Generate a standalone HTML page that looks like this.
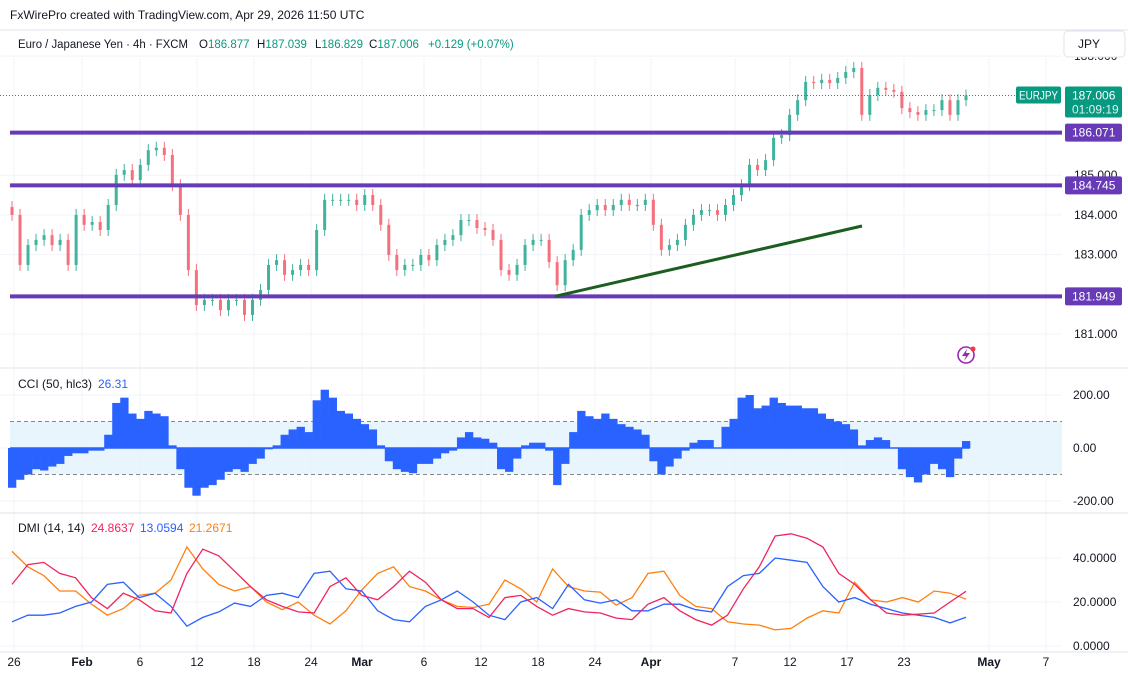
<!DOCTYPE html>
<html><head><meta charset="utf-8"><style>
body{margin:0;background:#fff;}
svg text{font-family:"Liberation Sans",sans-serif;}
</style></head><body>
<svg id="c" width="1128" height="680" xmlns="http://www.w3.org/2000/svg">
<rect width="1128" height="680" fill="#fff"/>
<text x="10" y="19" font-size="12" fill="#131722">FxWirePro created with TradingView.com, Apr 29, 2026 11:50 UTC</text>
<line x1="0" y1="30" x2="1128" y2="30" stroke="#e0e3eb"/>
<g font-size="11.5">
<text x="18" y="48" fill="#131722" textLength="170" lengthAdjust="spacingAndGlyphs">Euro / Japanese Yen · 4h · FXCM</text>
<text x="199" y="48" fill="#131722">O<tspan fill="#089981">186.877</tspan></text>
<text x="257" y="48" fill="#131722">H<tspan fill="#089981">187.039</tspan></text>
<text x="315" y="48" fill="#131722">L<tspan fill="#089981">186.829</tspan></text>
<text x="369" y="48" fill="#131722">C<tspan fill="#089981">187.006</tspan></text>
<text x="428" y="48" fill="#089981">+0.129 (+0.07%)</text>
</g>
<g id="grid"></g>
<g id="main"></g>
<g id="cci"></g>
<g id="dmi"></g>
<g id="axes"></g>
</svg>
<script>
// ---------- data ----------
const closes=[184.00,182.74,183.24,183.37,183.49,183.24,183.37,182.74,184.00,183.75,
183.82,183.62,184.25,185.01,185.13,184.88,185.26,185.63,185.69,185.51,
184.75,184.00,182.61,181.73,181.86,181.86,181.60,181.86,181.86,181.48,
181.86,182.11,182.74,182.86,182.49,182.61,182.74,182.61,183.62,184.38,
184.38,184.38,184.38,184.25,184.50,184.25,183.75,182.99,182.61,182.74,
182.74,182.99,182.86,183.24,183.37,183.49,183.87,183.87,183.67,183.62,
183.37,182.61,182.49,182.74,183.24,183.37,183.37,182.81,182.23,182.86,
183.12,184.00,184.12,184.25,184.12,184.25,184.38,184.25,184.25,184.38,
183.75,183.12,183.24,183.37,183.75,184.00,184.12,184.12,184.00,184.25,
184.50,184.75,185.26,185.13,185.38,185.94,186.01,186.52,186.89,187.35,
187.32,187.40,187.32,187.45,187.60,187.70,186.52,187.02,187.20,187.15,
187.10,186.69,186.59,186.52,186.64,186.64,186.89,186.52,186.89,187.006];
const cciValues=[-150,-120,-100,-80,-85,-70,-60,-30,-20,-20,-10,-10,50,170,190,130,110,140,130,120,
10,-80,-150,-180,-150,-140,-120,-90,-80,-90,-60,-40,-5,10,50,70,80,60,180,220,
190,140,130,110,90,70,10,-50,-80,-90,-95,-60,-60,-40,-20,-10,40,60,40,35,
20,-80,-90,-40,10,20,20,-10,-140,-60,60,140,120,110,130,110,90,80,70,50,
-50,-100,-70,-40,-10,20,30,30,0,80,110,190,200,150,160,190,170,160,160,150,
150,130,110,100,90,70,10,30,40,30,0,-80,-110,-130,-100,-60,-80,-110,-40,26.31];
const adxValues=[28,37,38,33,31,22,17,24,21,16,15,33,44,41,34,27,21,18,15.5,15,27,31,23,21,27,34,29,21,17,17,13,22,23,18,14,17,15.5,15,12.7,12,19,22,16,12,9.5,14,26,36,50,51,49,45,33,28,21,15,14,14.5,15,20,24.8637];
const plusDiValues=[11,14,14,15,18,20,28,29,22,24,18,9,13,15.5,19.5,18,23,24,22,33,34,26,25,16,12,11,18,21,25,20,14,12,20,22,17,28,21,19.5,21,16,16,19,19,16.5,15.5,27,32,33,40,39,38,27,20,22,19,17,15,14,13,10.5,13.0594];
const minusDiValues=[43,36,32,25,25,19,14,17,23,24,30,45,35,28,25,27,20,16.5,20,14,10,16,25.5,33,36,27,25,21,18,17.5,19,30,26,20,35,27,25,24.5,18.6,22,33,34,23,18,17,11,10,9.5,7.3,8,12.7,16,15,29,21,20,22,20,25,24,21.2671];
const priceTicks=[188,185,184,183,181];
const levelValues=[186.071,184.745,181.949];
const cciTicks=[200,0,-200];
const dmiTicks=[40,20,0];
const timeLabels=["26","Feb","6","12","18","24","Mar","6","12","18","24","Apr","7","12","17","23","May","7"];
const timeBold=[false,true,false,false,false,false,true,false,false,false,false,true,false,false,false,false,true,false];
const timeTickX=[14,82,140,197,254,311,362,424,481,538,595,651,735,790,847,904,989,1046];
const trendPrices=[181.95,183.72];
// ---------- scales ----------
const X0=12,X1=966,PR=1062;
const xi=(i,n)=>X0+i*(X1-X0)/(n-1);
const yP=p=>334-(p-181)*39.7;
const yC=v=>448-v*0.265;
const yD=v=>646-v*2.2;
const NS="http://www.w3.org/2000/svg";
function mk(tag,attrs,parent,txt){const e=document.createElementNS(NS,tag);for(const k in attrs)e.setAttribute(k,attrs[k]);if(txt!==undefined)e.textContent=txt;parent.appendChild(e);return e;}
const G=document.getElementById('grid'),M=document.getElementById('main'),C=document.getElementById('cci'),D=document.getElementById('dmi'),A=document.getElementById('axes');
timeTickX.forEach(x=>{mk('line',{x1:x,y1:58,x2:x,y2:652,stroke:'#f0f3fa'},G);});
priceTicks.forEach(p=>{mk('line',{x1:0,y1:yP(p),x2:PR,y2:yP(p),stroke:'#f0f3fa'},G);});
cciTicks.forEach(v=>{mk('line',{x1:0,y1:yC(v),x2:PR,y2:yC(v),stroke:'#f0f3fa'},G);});
dmiTicks.forEach(v=>{mk('line',{x1:0,y1:yD(v),x2:PR,y2:yD(v),stroke:'#f0f3fa'},G);});
[368,513,652].forEach(y=>{mk('line',{x1:0,y1:y,x2:1128,y2:y,stroke:'#e0e3eb'},G);});
// candles
for(let i=0;i<closes.length;i++){
 const c=closes[i],o=i?closes[i-1]:c+0.2,x=xi(i,closes.length);
 const up=c>=o,col=up?'#3fb39c':'#f5707c';
 const hi=Math.max(o,c),lo=Math.min(o,c);
 const w=mk('line',{x1:x,y1:yP(hi)-6,x2:x,y2:yP(lo)+6,stroke:col,'stroke-width':1},M);
 
 
 const b=mk('rect',{x:x-1.5,y:yP(hi),width:3,height:Math.max(1,yP(lo)-yP(hi)),fill:col},M);
 
 
}
const cp=closes[closes.length-1];
mk('line',{x1:0,y1:yP(cp),x2:PR,y2:yP(cp),stroke:'#089981','stroke-dasharray':'1 2'},M);
levelValues.forEach(v=>{
 const l=mk('line',{x1:10,y1:yP(v),x2:PR,y2:yP(v),stroke:'#673ab7','stroke-width':4},M);
 
 
});
const tl=mk('line',{x1:555,y1:yP(trendPrices[0]),x2:862,y2:yP(trendPrices[1]),stroke:'#1b5e20','stroke-width':3},M);


const ic=mk('g',{},M);


mk('circle',{cx:966,cy:355,r:8,fill:'none',stroke:'#9c27b0','stroke-width':1.6},ic);
mk('path',{d:'M967 349 L962 356 L966 356 L964 361 L970 353 L966 353 Z',fill:'#9c27b0'},ic);
mk('circle',{cx:973,cy:349,r:2.5,fill:'#f23645'},ic);
// price axis
priceTicks.forEach(p=>{mk('text',{x:1074,y:yP(p)+4,'font-size':12,fill:'#131722'},A,p.toFixed(3));});
const jb=mk('g',{},A);


mk('rect',{x:1064,y:31,width:61,height:26,rx:4,fill:'#fff',stroke:'#e0e3eb'},jb);
mk('text',{x:1078,y:48,'font-size':12,fill:'#131722'},jb,'JPY');
levelValues.forEach(v=>{
 const y=yP(v);mk('rect',{x:1065,y:y-9,width:57,height:18,rx:2,fill:'#673ab7'},A);
 mk('text',{x:1072,y:y+4,'font-size':12,fill:'#fff'},A,v.toFixed(3));
});
{const y=yP(cp);
 const g=mk('g',{},A);
 
 
 mk('rect',{x:1016,y:y-9,width:45,height:17,rx:2,fill:'#089981'},g);
 mk('text',{x:1019,y:y+4,'font-size':12,fill:'#fff',textLength:39,lengthAdjust:'spacingAndGlyphs'},g,'EURJPY');
 mk('rect',{x:1065,y:y-9,width:57,height:31,rx:2,fill:'#089981'},g);
 mk('text',{x:1072,y:y+4,'font-size':12,fill:'#fff'},g,cp.toFixed(3));
 mk('text',{x:1072,y:y+18,'font-size':12,fill:'#e0f2f1'},g,'01:09:19');}
// CCI
mk('rect',{x:10,y:yC(100),width:PR-10,height:yC(-100)-yC(100),fill:'#e3f2fd',opacity:0.8},C);
[100,-100].forEach(v=>mk('line',{x1:10,y1:yC(v),x2:PR,y2:yC(v),stroke:'#888','stroke-dasharray':'4 3'},C));
const cw=(X1-X0)/(cciValues.length-1);
cciValues.forEach((v,i)=>{
 const x=xi(i,cciValues.length);
 const r=mk('rect',{x:x-cw/2,y:Math.min(yC(v),yC(0)),width:cw+0.3,height:Math.abs(yC(v)-yC(0)),fill:'#2962ff'},C);
 
 
});
mk('line',{x1:10,y1:yC(0),x2:X1+4,y2:yC(0),stroke:'#2962ff','stroke-width':1.5},C);
mk('text',{x:18,y:388,'font-size':12,fill:'#131722'},C,'CCI (50, hlc3)');
mk('text',{x:98,y:388,'font-size':12,fill:'#2962ff'},C,cciValues[cciValues.length-1].toFixed(2));
cciTicks.forEach(v=>mk('text',{x:1073,y:yC(v)+4,'font-size':12,fill:'#131722'},A,v.toFixed(2)));
// DMI
function line(arr,col,name){
 const pts=arr.map((v,i)=>xi(i,arr.length).toFixed(1)+','+yD(v).toFixed(1)).join(' ');
 const p=mk('polyline',{points:pts,fill:'none',stroke:col,'stroke-width':1.3},D);
 
 
}
line(minusDiValues,'#ff7f0e','dmi-minus-di-line');
line(plusDiValues,'#2962ff','dmi-plus-di-line');
line(adxValues,'#f0245e','dmi-adx-line');
mk('text',{x:18,y:532,'font-size':12,fill:'#131722'},D,'DMI (14, 14)');
mk('text',{x:91,y:532,'font-size':12,fill:'#f0245e'},D,adxValues[adxValues.length-1].toFixed(4));
mk('text',{x:140,y:532,'font-size':12,fill:'#2962ff'},D,plusDiValues[plusDiValues.length-1].toFixed(4));
mk('text',{x:189,y:532,'font-size':12,fill:'#ff7f0e'},D,minusDiValues[minusDiValues.length-1].toFixed(4));
dmiTicks.forEach(v=>mk('text',{x:1073,y:yD(v)+4,'font-size':12,fill:'#131722'},A,v.toFixed(4)));
// time axis
timeLabels.forEach((t,i)=>{
 const e=mk('text',{x:timeTickX[i],y:666,'font-size':12,fill:'#131722','text-anchor':'middle','font-weight':timeBold[i]?'bold':'normal'},A,t);
 
 
});
</script>
</body></html>
